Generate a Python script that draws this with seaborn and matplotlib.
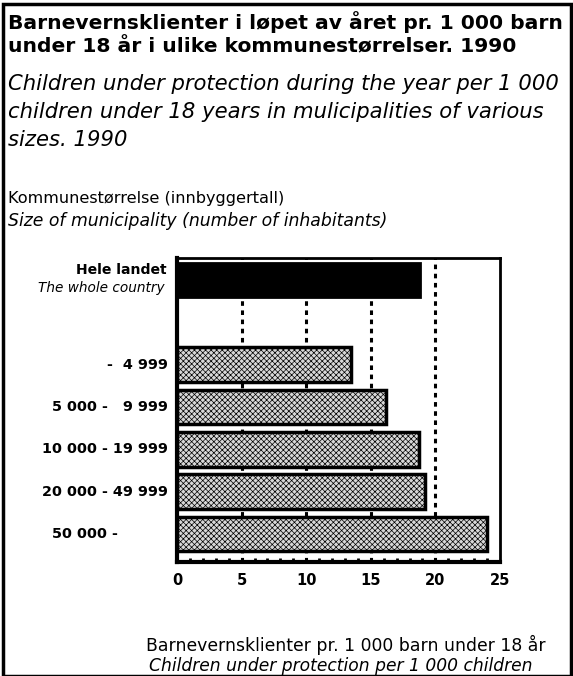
import matplotlib
matplotlib.use("Agg")
import matplotlib.pyplot as plt
from matplotlib.patches import Rectangle
from matplotlib.ticker import MultipleLocator
import pandas as pd
import seaborn as sns

sns.set_style("white")
plt.rcParams['font.family'] = ['DejaVu Sans']
plt.rcParams['text.color'] = 'black'
plt.rcParams['xtick.color'] = 'black'
plt.rcParams['xtick.labelcolor'] = 'black'
plt.rcParams['hatch.color'] = '#606060'
plt.rcParams['hatch.linewidth'] = 0.5

# data
total_label = "Hele landet"
total_label_en = "The whole country"
total_value = 18.8
size_labels = ["-  4 999", "5 000 -   9 999", "10 000 - 19 999", "20 000 - 49 999", "50 000 -"]
size_values = [13.5, 16.2, 18.7, 19.2, 24.0]
x_ticks = [0, 5, 10, 15, 20, 25]

order = [total_label, " "] + size_labels
df_total = pd.DataFrame({'group': [total_label], 'rate': [total_value]})
df_sizes = pd.DataFrame({'group': size_labels, 'rate': size_values})

W, H = 573, 676
fig = plt.figure(figsize=(W / 100, H / 100), dpi=100)
ax = fig.add_axes([177 / W, 1 - 562 / H, 323 / W, 304 / H])

sns.barplot(data=df_total, x='rate', y='group', order=order, color='black',
            width=0.82, edgecolor='black', linewidth=2, saturation=1, ax=ax, zorder=3)
n_before = len(ax.patches)
sns.barplot(data=df_sizes, x='rate', y='group', order=order, color='#d8d8d8',
            width=0.82, edgecolor='black', linewidth=2.5, saturation=1, ax=ax, zorder=3)
for p in ax.patches[n_before:]:
    p.set_hatch('xxxxxx')

ax.set_xlim(0, 25)
ax.set_ylim(6.66, -0.52)
ax.set_xticks(x_ticks)
ax.set_xticklabels([str(t) for t in x_ticks], fontsize=10.5, fontweight='bold')
ax.xaxis.set_minor_locator(MultipleLocator(1))
ax.tick_params(axis='x', which='major', direction='in', length=4, width=2, pad=8)
ax.tick_params(axis='x', which='minor', direction='in', length=3, width=2, bottom=True)
ax.set_yticks([])
ax.set_xlabel('')
ax.set_ylabel('')

for t in x_ticks[1:-1]:
    ax.axvline(t, color='black', lw=2.2, ls=(0, (1.5, 1.5)), zorder=1)

for s in ax.spines.values():
    s.set_color('black')
    s.set_linewidth(2)
ax.spines['left'].set_linewidth(3)
ax.spines['bottom'].set_linewidth(3)

# category labels
lab_kw = dict(xycoords=('axes fraction', 'data'), textcoords='offset pixels', va='center')
hele = ax.annotate(total_label, xy=(0, 0), xytext=(-10, 10), ha='right', fontweight='bold',
                   fontsize=10, **lab_kw)
hele_en = ax.annotate(total_label_en, xy=(0, 0), xytext=(-12, -8), ha='right', style='italic',
                      fontsize=10, **lab_kw)
size_texts = []
for lab in size_labels:
    pos = order.index(lab)
    if lab.endswith('-'):
        t = ax.annotate(lab, xy=(0, pos), xytext=(-125, 0), ha='left', fontweight='bold',
                        fontsize=10, **lab_kw)
    else:
        t = ax.annotate(lab, xy=(0, pos), xytext=(-9, 0), ha='right', fontweight='bold',
                        fontsize=10, **lab_kw)
    size_texts.append(t)

# titles
title = [fig.text(8 / W, 1 - y / H, line, fontsize=14, fontweight='bold', va='center')
         for y, line in [(22, "Barnevernsklienter i løpet av året pr. 1 000 barn"),
                         (47, "under 18 år i ulike kommunestørrelser. 1990")]]
subtitle = [fig.text(8 / W, 1 - y / H, line, fontsize=14, style='italic', va='center')
            for y, line in [(84, "Children under protection during the year per 1 000"),
                            (112, "children under 18 years in mulicipalities of various"),
                            (140, "sizes. 1990")]]

k1 = fig.text(8 / W, 1 - 198 / H, "Kommunestørrelse (innbyggertall)", fontsize=11, va='center')
k2 = fig.text(8 / W, 1 - 221 / H, "Size of municipality (number of inhabitants)",
              fontsize=11, style='italic', va='center')

b1 = fig.text(346 / W, 1 - 645 / H, "Barnevernsklienter pr. 1 000 barn under 18 år",
              fontsize=11, ha='center', va='center')
b2 = fig.text(341 / W, 1 - 666 / H, "Children under protection per 1 000 children",
              fontsize=11, style='italic', ha='center', va='center')

# scale groups of texts so that one member matches the reference width in px
fig.canvas.draw()
r = fig.canvas.get_renderer()
for group, key, w in [(title, title[0], 555), (subtitle, subtitle[0], 554),
                      ([k1], k1, 277), ([k2], k2, 380), ([b1], b1, 398), ([b2], b2, 382),
                      (size_texts, size_texts[2], 126), ([hele], hele, 91)]:
    f = w / key.get_window_extent(r).width
    for t in group:
        t.set_fontsize(t.get_fontsize() * f)
hele_en.set_fontsize(hele.get_fontsize() * 0.97)

# frame around the whole figure
fig.patches.append(Rectangle((3 / W, 0), 568 / W, 1 - 4 / H, transform=fig.transFigure,
                             fill=False, edgecolor='black', linewidth=2.5))

fig.savefig('out.png', dpi=100)
